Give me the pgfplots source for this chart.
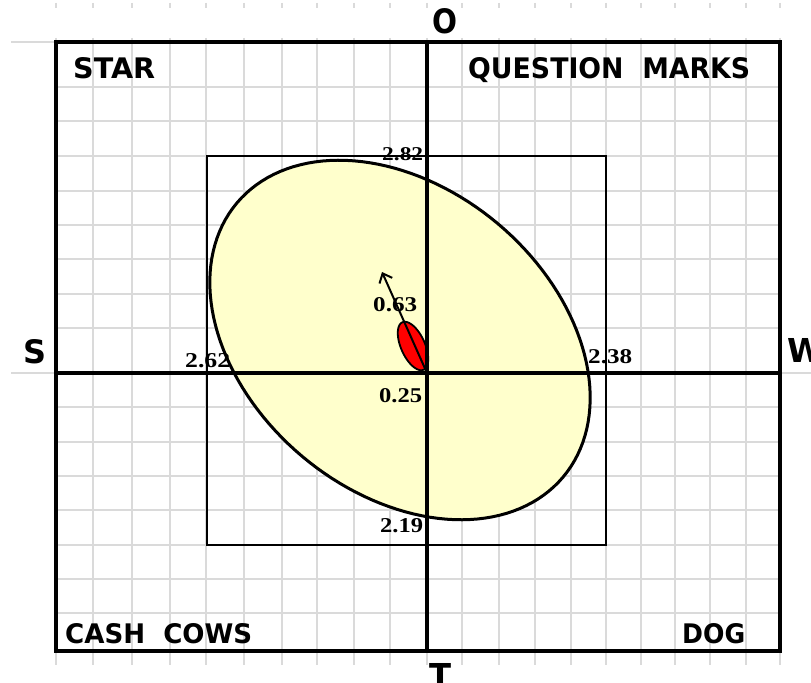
\documentclass[border=0pt]{standalone}
\usepackage{pgfplots}
\pgfplotsset{compat=1.18}
\usepackage{fontspec}
\usepackage{graphicx}
\usetikzlibrary{arrows.meta}
\newfontfamily\sansb{DejaVu Sans}
\newfontfamily\serifb{Liberation Serif}
\definecolor{gridc}{RGB}{218,218,218}
\definecolor{ellyel}{RGB}{255,255,204}
\newcommand{\lab}[5]{\node[anchor=north west,inner sep=0pt] at (axis cs:#1,#2) {\resizebox{#3bp}{#4bp}{#5}};}
\begin{document}
\begin{tikzpicture}
\begin{axis}[scale only axis, width=811bp, height=683bp,
  xmin=0, xmax=811, ymin=0, ymax=683, y dir=reverse,
  axis lines=none, clip=false]
% grid
\pgfplotsinvokeforeach{56,93,132,170,206,244,282,317,354,390,427,462,499,535,571,606,641,675,710,746,780}{
  \addplot[gridc, line width=1.2bp] coordinates {(#1,38) (#1,665)};
  \addplot[gridc, line width=1.2bp] coordinates {(#1,3) (#1,8)};
}
\pgfplotsinvokeforeach{87,121,156,191,225,259,294,328,407,442,476,510,545,579,613}{
  \addplot[gridc, line width=1.2bp] coordinates {(56,#1) (780,#1)};
}
\addplot[gridc, line width=1.2bp] coordinates {(11,42) (780,42)};
\addplot[gridc, line width=1.2bp] coordinates {(11,373) (811,373)};
% inner rectangle
\addplot[black, line width=1.3bp, line cap=rect] coordinates {(207,156) (606,156) (606,545) (207,545) (207,156)};
% yellow ellipse
\addplot[draw=black, line width=3bp, fill=ellyel, domain=0:360, samples=145, variable=\t]
  ({400+213*cos(\t)*0.766-152*sin(\t)*0.643}, {340+213*cos(\t)*0.643+152*sin(\t)*0.766});
% red ellipse
\addplot[draw=black, line width=1.8bp, fill=red, domain=0:360, samples=73, variable=\t]
  ({413-26*cos(\t)*0.407+12*sin(\t)*0.913}, {346-26*cos(\t)*0.913-12*sin(\t)*0.407});
% axes
\addplot[black, line width=4.5bp] coordinates {(427,42) (427,651)};
\addplot[black, line width=4.5bp] coordinates {(56,373) (780,373)};
% frame
\addplot[black, line width=3.6bp, line cap=rect] coordinates {(56,42) (780,42) (780,651) (56,651) (56,42)};
% arrow
\addplot[black, line width=2bp, -{Straight Barb[length=8bp,width=14bp]}] coordinates {(427,373) (382,272)};
% labels
\lab{73}{57}{82}{21}{\sansb\bfseries STAR}
\lab{468}{57}{282}{21}{\sansb\bfseries QUESTION~~MARKS}
\lab{65}{623}{187}{20}{\sansb\bfseries CASH~~COWS}
\lab{682}{623}{63}{20}{\sansb\bfseries DOG}
\lab{23}{339}{23}{24}{\sansb\bfseries S}
\lab{787}{338}{36}{24}{\sansb\bfseries W}
\lab{432}{8}{25}{25}{\sansb\bfseries O}
\lab{429}{663}{22}{24}{\sansb\bfseries T}
\lab{382}{147}{41}{13}{\serifb\bfseries 2.82}
\lab{185}{353}{45}{14}{\serifb\bfseries 2.62}
\lab{588}{349}{44}{14}{\serifb\bfseries 2.38}
\lab{380}{518}{43}{14}{\serifb\bfseries 2.19}
\lab{373}{297}{44}{14}{\serifb\bfseries 0.63}
\lab{379}{388}{43}{14}{\serifb\bfseries 0.25}
\end{axis}
\pgfresetboundingbox
\useasboundingbox (current axis.south west) rectangle (current axis.north east);
\end{tikzpicture}
\end{document}
